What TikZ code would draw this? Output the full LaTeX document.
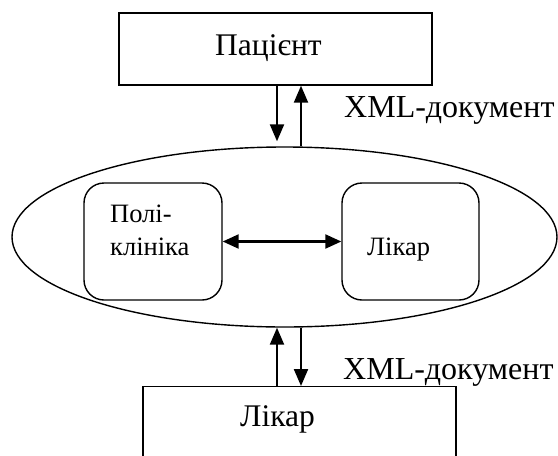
\documentclass[tikz,border=0pt]{standalone}
\usepackage{fontspec}
\setmainfont{Liberation Serif}
\usetikzlibrary{arrows.meta,shapes.geometric}
\begin{document}
\begin{tikzpicture}[x=1pt,y=-1pt,
  box/.style={draw,line width=1.4pt,inner sep=0pt},
  rbox/.style={draw,line width=1.4pt,rounded corners=20pt,inner sep=0pt},
  conn/.style={line width=2.2pt,-{Triangle[length=17pt,width=14pt]}},
  dconn/.style={line width=2.2pt,{Triangle[length=16pt,width=14pt]}-{Triangle[length=16pt,width=14pt]}},
  big/.style={font=\fontsize{31.5}{37}\selectfont,inner sep=0pt},
  mid/.style={font=\fontsize{26.5}{31}\selectfont,inner sep=0pt},
  lab/.style={font=\fontsize{32}{37}\selectfont,inner sep=0pt}]
\useasboundingbox (0,0) rectangle (558,456);
\clip (0,0) rectangle (558,456);
% boxes
\node[box,minimum width=313pt,minimum height=72pt] (pat) at (275.5,49) {};
\node[draw,line width=1.4pt,ellipse,inner sep=0pt,minimum width=545pt,minimum height=180pt] (ell) at (284.5,237) {};
\node[rbox,minimum width=138pt,minimum height=117pt] (poli) at (153,241.5) {};
\node[rbox,minimum width=137pt,minimum height=117pt] (lik) at (410.5,241.5) {};
\node[box,minimum width=313pt,minimum height=100pt,anchor=north] (low) at (299.5,386) {};
% texts
\node[big,anchor=base west] (pattxt) at (215,55) {Пацієнт};
\node[mid,anchor=base west] (poli1) at (110,222) {Полі-};
\node[mid,anchor=base west] (poli2) at (110,255) {клініка};
\node[mid,anchor=base west] (liktxt) at (367,255) {Лікар};
\node[big,anchor=base west] (lowtxt) at (240,426) {Лікар};
\node[lab,anchor=base west] (xml1) at (344,117) {XML-документ};
\node[lab,anchor=base west] (xml2) at (343,379) {XML-документ};
% connectors
\coordinate (a1) at (277,0);
\coordinate (a2) at (301,0);
\draw[conn,shorten >=5pt] (a1 |- pat.south) -- (a1 |- ell.north);
\draw[conn] (a2 |- ell.north) -- (a2 |- pat.south);
\draw[conn] (a1 |- low.north) -- (a1 |- ell.south);
\draw[conn] (a2 |- ell.south) -- (a2 |- low.north);
\draw[dconn] (poli.east) -- (lik.west);
\end{tikzpicture}
\end{document}
